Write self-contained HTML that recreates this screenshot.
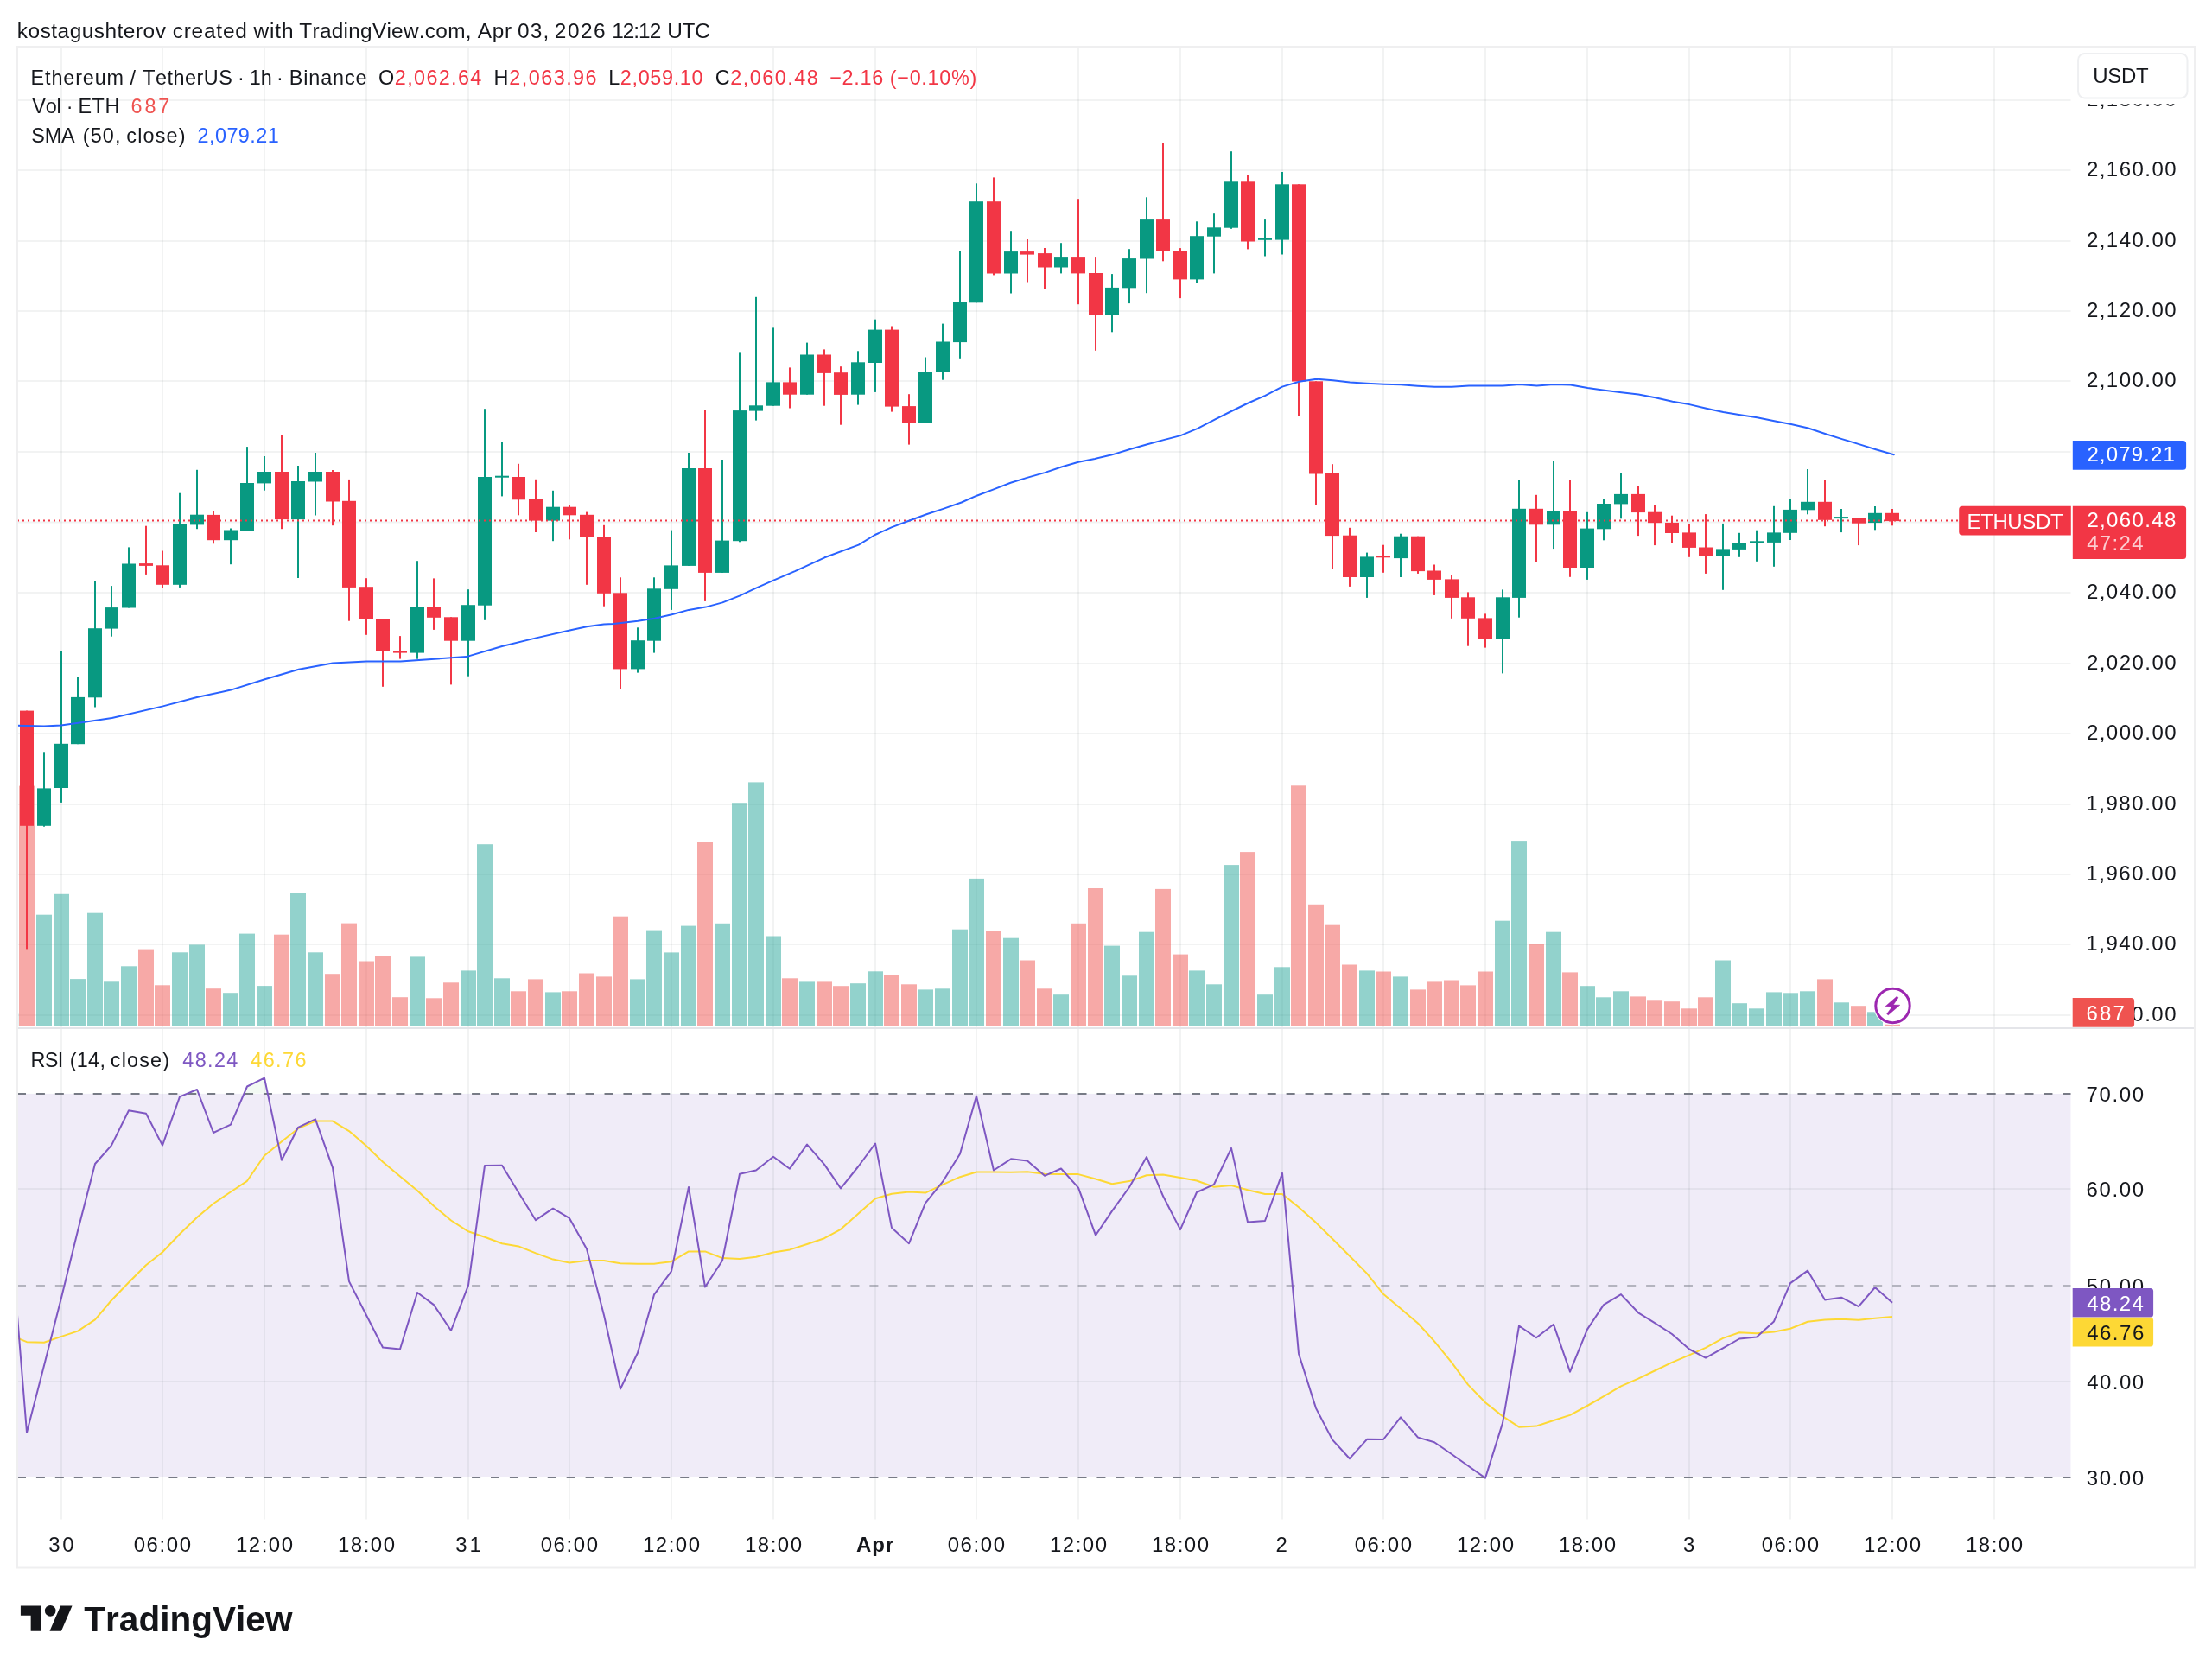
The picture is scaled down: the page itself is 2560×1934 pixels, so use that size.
<!DOCTYPE html>
<html><head><meta charset="utf-8"><title>ETHUSDT chart</title>
<style>html,body{margin:0;padding:0;background:#fff;}body{width:2560px;height:1934px;position:relative;overflow:hidden;font-family:"Liberation Sans", sans-serif;}svg{font-family:"Liberation Sans", sans-serif}text{white-space:pre;font-kerning:none}</style>
</head><body>
<svg width="2560" height="1934" viewBox="0 0 2560 1934" style="position:absolute;left:0;top:0">
<rect width="2560" height="1934" fill="#fff"/>
<rect x="20" y="1266" width="2376.5" height="444" fill="#7e57c2" fill-opacity="0.115"/>
<g fill="#2a2e39" fill-opacity="0.06"><rect x="70" y="55" width="2" height="1703.5"/><rect x="187" y="55" width="2" height="1703.5"/><rect x="305" y="55" width="2" height="1703.5"/><rect x="423" y="55" width="2" height="1703.5"/><rect x="541" y="55" width="2" height="1703.5"/><rect x="658" y="55" width="2" height="1703.5"/><rect x="776" y="55" width="2" height="1703.5"/><rect x="894" y="55" width="2" height="1703.5"/><rect x="1012" y="55" width="2" height="1703.5"/><rect x="1129" y="55" width="2" height="1703.5"/><rect x="1247" y="55" width="2" height="1703.5"/><rect x="1365" y="55" width="2" height="1703.5"/><rect x="1483" y="55" width="2" height="1703.5"/><rect x="1600" y="55" width="2" height="1703.5"/><rect x="1718" y="55" width="2" height="1703.5"/><rect x="1836" y="55" width="2" height="1703.5"/><rect x="1954" y="55" width="2" height="1703.5"/><rect x="2071" y="55" width="2" height="1703.5"/><rect x="2189" y="55" width="2" height="1703.5"/><rect x="2307" y="55" width="2" height="1703.5"/><rect x="20" y="115.0" width="2376.5" height="2"/><rect x="20" y="196.0" width="2376.5" height="2"/><rect x="20" y="278.0" width="2376.5" height="2"/><rect x="20" y="359.0" width="2376.5" height="2"/><rect x="20" y="440.0" width="2376.5" height="2"/><rect x="20" y="522.0" width="2376.5" height="2"/><rect x="20" y="603.5" width="2376.5" height="2"/><rect x="20" y="685.0" width="2376.5" height="2"/><rect x="20" y="767.0" width="2376.5" height="2"/><rect x="20" y="848.0" width="2376.5" height="2"/><rect x="20" y="930.0" width="2376.5" height="2"/><rect x="20" y="1011.0" width="2376.5" height="2"/><rect x="20" y="1092.0" width="2376.5" height="2"/><rect x="20" y="1174.0" width="2376.5" height="2"/><rect x="20" y="1375.0" width="2376.5" height="2"/><rect x="20" y="1598.0" width="2376.5" height="2"/></g>
<g fill-opacity="0.5"><rect x="20" y="1173.2" width="1.1999999999999993" height="14.8" fill="#26a69a"/><rect x="22" y="909.6" width="18" height="278.4" fill="#ef5350"/><rect x="42" y="1058.7" width="18" height="129.3" fill="#26a69a"/><rect x="62" y="1034.8" width="18" height="153.2" fill="#26a69a"/><rect x="81" y="1133.1" width="18" height="54.9" fill="#26a69a"/><rect x="101" y="1056.7" width="18" height="131.3" fill="#26a69a"/><rect x="120" y="1135.3" width="18" height="52.7" fill="#26a69a"/><rect x="140" y="1118.3" width="18" height="69.7" fill="#26a69a"/><rect x="160" y="1098.6" width="18" height="89.4" fill="#ef5350"/><rect x="179" y="1140.3" width="18" height="47.7" fill="#ef5350"/><rect x="199" y="1102.3" width="18" height="85.7" fill="#26a69a"/><rect x="219" y="1093.4" width="18" height="94.6" fill="#26a69a"/><rect x="238" y="1144.2" width="18" height="43.8" fill="#ef5350"/><rect x="258" y="1149.2" width="18" height="38.8" fill="#26a69a"/><rect x="277" y="1080.6" width="18" height="107.4" fill="#26a69a"/><rect x="297" y="1141.1" width="18" height="46.9" fill="#26a69a"/><rect x="317" y="1081.7" width="18" height="106.3" fill="#ef5350"/><rect x="336" y="1033.9" width="18" height="154.1" fill="#26a69a"/><rect x="356" y="1102.3" width="18" height="85.7" fill="#26a69a"/><rect x="376" y="1127.2" width="18" height="60.8" fill="#ef5350"/><rect x="395" y="1068.6" width="18" height="119.4" fill="#ef5350"/><rect x="415" y="1112.5" width="18" height="75.5" fill="#ef5350"/><rect x="434" y="1106.5" width="18" height="81.5" fill="#ef5350"/><rect x="454" y="1154.2" width="18" height="33.8" fill="#ef5350"/><rect x="474" y="1107.4" width="18" height="80.6" fill="#26a69a"/><rect x="493" y="1155.3" width="18" height="32.7" fill="#ef5350"/><rect x="513" y="1137.3" width="18" height="50.7" fill="#ef5350"/><rect x="533" y="1123.4" width="18" height="64.6" fill="#26a69a"/><rect x="552" y="977.2" width="18" height="210.8" fill="#26a69a"/><rect x="572" y="1132.3" width="18" height="55.7" fill="#26a69a"/><rect x="591" y="1147.3" width="18" height="40.7" fill="#ef5350"/><rect x="611" y="1133.4" width="18" height="54.6" fill="#ef5350"/><rect x="631" y="1148.4" width="18" height="39.6" fill="#26a69a"/><rect x="650" y="1147.3" width="18" height="40.7" fill="#ef5350"/><rect x="670" y="1126.5" width="18" height="61.5" fill="#ef5350"/><rect x="690" y="1130.4" width="18" height="57.6" fill="#ef5350"/><rect x="709" y="1060.7" width="18" height="127.3" fill="#ef5350"/><rect x="729" y="1133.4" width="18" height="54.6" fill="#26a69a"/><rect x="748" y="1076.6" width="18" height="111.4" fill="#26a69a"/><rect x="768" y="1102.4" width="18" height="85.6" fill="#26a69a"/><rect x="788" y="1071.6" width="18" height="116.4" fill="#26a69a"/><rect x="807" y="974.1" width="18" height="213.9" fill="#ef5350"/><rect x="827" y="1068.8" width="18" height="119.2" fill="#26a69a"/><rect x="847" y="929.2" width="18" height="258.8" fill="#26a69a"/><rect x="866" y="905.4" width="18" height="282.6" fill="#26a69a"/><rect x="886" y="1083.5" width="18" height="104.5" fill="#26a69a"/><rect x="905" y="1132.3" width="18" height="55.7" fill="#ef5350"/><rect x="925" y="1135.4" width="18" height="52.6" fill="#26a69a"/><rect x="945" y="1135.4" width="18" height="52.6" fill="#ef5350"/><rect x="964" y="1141.2" width="18" height="46.8" fill="#ef5350"/><rect x="984" y="1138.2" width="18" height="49.8" fill="#26a69a"/><rect x="1004" y="1124.3" width="18" height="63.7" fill="#26a69a"/><rect x="1023" y="1128.4" width="18" height="59.6" fill="#ef5350"/><rect x="1043" y="1139.3" width="18" height="48.7" fill="#ef5350"/><rect x="1062" y="1145.4" width="18" height="42.6" fill="#26a69a"/><rect x="1082" y="1144.3" width="18" height="43.7" fill="#26a69a"/><rect x="1102" y="1075.7" width="18" height="112.3" fill="#26a69a"/><rect x="1121" y="1016.9" width="18" height="171.1" fill="#26a69a"/><rect x="1141" y="1077.7" width="18" height="110.3" fill="#ef5350"/><rect x="1161" y="1085.7" width="18" height="102.3" fill="#26a69a"/><rect x="1180" y="1111.5" width="18" height="76.5" fill="#ef5350"/><rect x="1200" y="1144.3" width="18" height="43.7" fill="#ef5350"/><rect x="1219" y="1151.2" width="18" height="36.8" fill="#26a69a"/><rect x="1239" y="1068.8" width="18" height="119.2" fill="#ef5350"/><rect x="1259" y="1028.0" width="18" height="160.0" fill="#ef5350"/><rect x="1278" y="1094.6" width="18" height="93.4" fill="#26a69a"/><rect x="1298" y="1129.3" width="18" height="58.7" fill="#26a69a"/><rect x="1318" y="1078.7" width="18" height="109.3" fill="#26a69a"/><rect x="1337" y="1028.9" width="18" height="159.1" fill="#ef5350"/><rect x="1357" y="1104.6" width="18" height="83.4" fill="#ef5350"/><rect x="1376" y="1123.4" width="18" height="64.6" fill="#26a69a"/><rect x="1396" y="1139.3" width="18" height="48.7" fill="#26a69a"/><rect x="1416" y="1001.1" width="18" height="186.9" fill="#26a69a"/><rect x="1435" y="986.1" width="18" height="201.9" fill="#ef5350"/><rect x="1455" y="1151.2" width="18" height="36.8" fill="#26a69a"/><rect x="1475" y="1119.3" width="18" height="68.7" fill="#26a69a"/><rect x="1494" y="909.3" width="18" height="278.7" fill="#ef5350"/><rect x="1514" y="1046.8" width="18" height="141.2" fill="#ef5350"/><rect x="1533" y="1070.7" width="18" height="117.3" fill="#ef5350"/><rect x="1553" y="1116.5" width="18" height="71.5" fill="#ef5350"/><rect x="1573" y="1123.4" width="18" height="64.6" fill="#26a69a"/><rect x="1592" y="1124.5" width="18" height="63.5" fill="#ef5350"/><rect x="1612" y="1130.4" width="18" height="57.6" fill="#26a69a"/><rect x="1632" y="1145.4" width="18" height="42.6" fill="#ef5350"/><rect x="1651" y="1135.4" width="18" height="52.6" fill="#ef5350"/><rect x="1671" y="1134.5" width="18" height="53.5" fill="#ef5350"/><rect x="1690" y="1140.4" width="18" height="47.6" fill="#ef5350"/><rect x="1710" y="1124.5" width="18" height="63.5" fill="#ef5350"/><rect x="1730" y="1065.7" width="18" height="122.3" fill="#26a69a"/><rect x="1749" y="973.1" width="18" height="214.9" fill="#26a69a"/><rect x="1769" y="1092.6" width="18" height="95.4" fill="#ef5350"/><rect x="1789" y="1078.7" width="18" height="109.3" fill="#26a69a"/><rect x="1808" y="1125.4" width="18" height="62.6" fill="#ef5350"/><rect x="1828" y="1141.2" width="18" height="46.8" fill="#26a69a"/><rect x="1847" y="1154.3" width="18" height="33.7" fill="#26a69a"/><rect x="1867" y="1147.3" width="18" height="40.7" fill="#26a69a"/><rect x="1887" y="1153.4" width="18" height="34.6" fill="#ef5350"/><rect x="1906" y="1157.3" width="18" height="30.7" fill="#ef5350"/><rect x="1926" y="1159.2" width="18" height="28.8" fill="#ef5350"/><rect x="1946" y="1167.3" width="18" height="20.7" fill="#ef5350"/><rect x="1965" y="1154.3" width="18" height="33.7" fill="#ef5350"/><rect x="1985" y="1111.5" width="18" height="76.5" fill="#26a69a"/><rect x="2004" y="1161.2" width="18" height="26.8" fill="#26a69a"/><rect x="2024" y="1167.3" width="18" height="20.7" fill="#26a69a"/><rect x="2044" y="1148.4" width="18" height="39.6" fill="#26a69a"/><rect x="2063" y="1149.3" width="18" height="38.7" fill="#26a69a"/><rect x="2083" y="1147.3" width="18" height="40.7" fill="#26a69a"/><rect x="2103" y="1133.4" width="18" height="54.6" fill="#ef5350"/><rect x="2122" y="1160.3" width="18" height="27.7" fill="#26a69a"/><rect x="2142" y="1164.2" width="18" height="23.8" fill="#ef5350"/><rect x="2161" y="1171.3" width="18" height="16.7" fill="#26a69a"/><rect x="2181" y="1185.7" width="18" height="2.3" fill="#ef5350"/></g>
<rect x="30" y="822.6" width="2" height="275.8" fill="#f23645"/><rect x="23" y="822.6" width="16" height="133.2" fill="#f23645"/><rect x="50" y="870.3" width="2" height="86.4" fill="#089981"/><rect x="43" y="912.4" width="16" height="43.4" fill="#089981"/><rect x="70" y="753.0" width="2" height="175.9" fill="#089981"/><rect x="63" y="860.8" width="16" height="51.2" fill="#089981"/><rect x="89" y="783.1" width="2" height="78.1" fill="#089981"/><rect x="82" y="806.9" width="16" height="54.3" fill="#089981"/><rect x="109" y="672.3" width="2" height="146.2" fill="#089981"/><rect x="102" y="727.2" width="16" height="80.1" fill="#089981"/><rect x="128" y="678.1" width="2" height="58.6" fill="#089981"/><rect x="121" y="703.1" width="16" height="24.5" fill="#089981"/><rect x="148" y="633.4" width="2" height="70.1" fill="#089981"/><rect x="141" y="652.5" width="16" height="51.0" fill="#089981"/><rect x="168" y="608.7" width="2" height="56.2" fill="#f23645"/><rect x="161" y="652.1" width="16" height="2.8" fill="#f23645"/><rect x="187" y="637.5" width="2" height="43.2" fill="#f23645"/><rect x="180" y="654.3" width="16" height="22.5" fill="#f23645"/><rect x="207" y="570.7" width="2" height="109.2" fill="#089981"/><rect x="200" y="606.7" width="16" height="70.1" fill="#089981"/><rect x="227" y="543.8" width="2" height="68.4" fill="#089981"/><rect x="220" y="595.7" width="16" height="11.7" fill="#089981"/><rect x="246" y="591.5" width="2" height="37.8" fill="#f23645"/><rect x="239" y="595.9" width="16" height="29.3" fill="#f23645"/><rect x="266" y="611.5" width="2" height="41.7" fill="#089981"/><rect x="259" y="613.5" width="16" height="11.7" fill="#089981"/><rect x="285" y="517.1" width="2" height="97.2" fill="#089981"/><rect x="278" y="559.0" width="16" height="55.3" fill="#089981"/><rect x="305" y="528.0" width="2" height="39.7" fill="#089981"/><rect x="298" y="546.0" width="16" height="13.4" fill="#089981"/><rect x="325" y="503.0" width="2" height="109.2" fill="#f23645"/><rect x="318" y="546.0" width="16" height="55.1" fill="#f23645"/><rect x="344" y="539.0" width="2" height="130.0" fill="#089981"/><rect x="337" y="557.0" width="16" height="44.1" fill="#089981"/><rect x="364" y="524.0" width="2" height="72.5" fill="#089981"/><rect x="357" y="546.0" width="16" height="11.5" fill="#089981"/><rect x="384" y="544.0" width="2" height="64.2" fill="#f23645"/><rect x="377" y="546.0" width="16" height="34.5" fill="#f23645"/><rect x="403" y="554.9" width="2" height="163.8" fill="#f23645"/><rect x="396" y="579.8" width="16" height="100.1" fill="#f23645"/><rect x="423" y="669.2" width="2" height="65.6" fill="#f23645"/><rect x="416" y="679.2" width="16" height="37.5" fill="#f23645"/><rect x="442" y="716.1" width="2" height="78.7" fill="#f23645"/><rect x="435" y="716.1" width="16" height="37.7" fill="#f23645"/><rect x="462" y="736.1" width="2" height="26.5" fill="#f23645"/><rect x="455" y="753.1" width="16" height="2.5" fill="#f23645"/><rect x="482" y="649.2" width="2" height="113.5" fill="#089981"/><rect x="475" y="702.2" width="16" height="53.4" fill="#089981"/><rect x="501" y="669.4" width="2" height="59.5" fill="#f23645"/><rect x="494" y="702.2" width="16" height="12.6" fill="#f23645"/><rect x="521" y="714.3" width="2" height="78.1" fill="#f23645"/><rect x="514" y="714.3" width="16" height="27.4" fill="#f23645"/><rect x="541" y="682.2" width="2" height="100.5" fill="#089981"/><rect x="534" y="700.2" width="16" height="41.5" fill="#089981"/><rect x="560" y="473.2" width="2" height="244.6" fill="#089981"/><rect x="553" y="552.0" width="16" height="148.7" fill="#089981"/><rect x="580" y="511.0" width="2" height="63.4" fill="#089981"/><rect x="573" y="550.7" width="16" height="2.0" fill="#089981"/><rect x="599" y="536.8" width="2" height="59.5" fill="#f23645"/><rect x="592" y="552.0" width="16" height="26.3" fill="#f23645"/><rect x="619" y="554.8" width="2" height="61.2" fill="#f23645"/><rect x="612" y="577.8" width="16" height="24.8" fill="#f23645"/><rect x="639" y="567.8" width="2" height="58.4" fill="#089981"/><rect x="632" y="586.7" width="16" height="15.9" fill="#089981"/><rect x="658" y="584.8" width="2" height="39.5" fill="#f23645"/><rect x="651" y="586.7" width="16" height="9.6" fill="#f23645"/><rect x="678" y="592.6" width="2" height="84.2" fill="#f23645"/><rect x="671" y="595.8" width="16" height="26.1" fill="#f23645"/><rect x="698" y="607.8" width="2" height="93.9" fill="#f23645"/><rect x="691" y="621.4" width="16" height="65.4" fill="#f23645"/><rect x="717" y="668.3" width="2" height="129.1" fill="#f23645"/><rect x="710" y="686.3" width="16" height="88.1" fill="#f23645"/><rect x="737" y="726.3" width="2" height="52.3" fill="#089981"/><rect x="730" y="741.2" width="16" height="33.2" fill="#089981"/><rect x="756" y="668.3" width="2" height="87.3" fill="#089981"/><rect x="749" y="681.3" width="16" height="60.4" fill="#089981"/><rect x="776" y="613.6" width="2" height="92.3" fill="#089981"/><rect x="769" y="654.4" width="16" height="27.4" fill="#089981"/><rect x="796" y="524.0" width="2" height="130.9" fill="#089981"/><rect x="789" y="542.0" width="16" height="112.9" fill="#089981"/><rect x="815" y="474.3" width="2" height="221.6" fill="#f23645"/><rect x="808" y="542.0" width="16" height="120.9" fill="#f23645"/><rect x="835" y="532.0" width="2" height="130.9" fill="#089981"/><rect x="828" y="625.6" width="16" height="37.3" fill="#089981"/><rect x="855" y="407.4" width="2" height="219.9" fill="#089981"/><rect x="848" y="475.1" width="16" height="151.1" fill="#089981"/><rect x="874" y="343.8" width="2" height="142.8" fill="#089981"/><rect x="867" y="469.3" width="16" height="6.3" fill="#089981"/><rect x="894" y="379.4" width="2" height="90.3" fill="#089981"/><rect x="887" y="442.4" width="16" height="27.3" fill="#089981"/><rect x="913" y="425.4" width="2" height="47.1" fill="#f23645"/><rect x="906" y="442.4" width="16" height="14.3" fill="#f23645"/><rect x="933" y="396.6" width="2" height="60.1" fill="#089981"/><rect x="926" y="410.5" width="16" height="46.2" fill="#089981"/><rect x="953" y="404.4" width="2" height="65.3" fill="#f23645"/><rect x="946" y="410.5" width="16" height="21.4" fill="#f23645"/><rect x="972" y="424.2" width="2" height="67.5" fill="#f23645"/><rect x="965" y="431.2" width="16" height="25.7" fill="#f23645"/><rect x="992" y="406.3" width="2" height="62.3" fill="#089981"/><rect x="985" y="419.3" width="16" height="37.4" fill="#089981"/><rect x="1012" y="369.7" width="2" height="84.2" fill="#089981"/><rect x="1005" y="381.6" width="16" height="38.4" fill="#089981"/><rect x="1031" y="377.5" width="2" height="99.1" fill="#f23645"/><rect x="1024" y="381.6" width="16" height="89.0" fill="#f23645"/><rect x="1051" y="456.2" width="2" height="58.4" fill="#f23645"/><rect x="1044" y="470.1" width="16" height="19.6" fill="#f23645"/><rect x="1070" y="413.5" width="2" height="76.2" fill="#089981"/><rect x="1063" y="430.4" width="16" height="59.3" fill="#089981"/><rect x="1090" y="374.6" width="2" height="65.1" fill="#089981"/><rect x="1083" y="395.5" width="16" height="35.3" fill="#089981"/><rect x="1110" y="290.2" width="2" height="124.6" fill="#089981"/><rect x="1103" y="349.7" width="16" height="46.4" fill="#089981"/><rect x="1129" y="212.3" width="2" height="138.0" fill="#089981"/><rect x="1122" y="233.2" width="16" height="117.1" fill="#089981"/><rect x="1149" y="205.4" width="2" height="113.0" fill="#f23645"/><rect x="1142" y="233.2" width="16" height="83.3" fill="#f23645"/><rect x="1169" y="267.2" width="2" height="72.3" fill="#089981"/><rect x="1162" y="291.1" width="16" height="25.4" fill="#089981"/><rect x="1188" y="277.0" width="2" height="49.5" fill="#f23645"/><rect x="1181" y="291.1" width="16" height="3.5" fill="#f23645"/><rect x="1208" y="287.0" width="2" height="47.4" fill="#f23645"/><rect x="1201" y="293.1" width="16" height="16.4" fill="#f23645"/><rect x="1227" y="281.2" width="2" height="35.2" fill="#089981"/><rect x="1220" y="298.1" width="16" height="11.4" fill="#089981"/><rect x="1247" y="230.2" width="2" height="122.0" fill="#f23645"/><rect x="1240" y="298.1" width="16" height="18.3" fill="#f23645"/><rect x="1267" y="298.1" width="2" height="107.7" fill="#f23645"/><rect x="1260" y="316.0" width="16" height="48.2" fill="#f23645"/><rect x="1286" y="317.1" width="2" height="67.2" fill="#089981"/><rect x="1279" y="332.9" width="16" height="31.3" fill="#089981"/><rect x="1306" y="288.2" width="2" height="62.9" fill="#089981"/><rect x="1299" y="299.1" width="16" height="34.2" fill="#089981"/><rect x="1326" y="228.3" width="2" height="110.9" fill="#089981"/><rect x="1319" y="254.1" width="16" height="45.4" fill="#089981"/><rect x="1345" y="165.4" width="2" height="136.9" fill="#f23645"/><rect x="1338" y="254.1" width="16" height="36.3" fill="#f23645"/><rect x="1365" y="287.1" width="2" height="58.0" fill="#f23645"/><rect x="1358" y="290.2" width="16" height="33.2" fill="#f23645"/><rect x="1384" y="256.3" width="2" height="71.0" fill="#089981"/><rect x="1377" y="273.2" width="16" height="50.2" fill="#089981"/><rect x="1404" y="247.2" width="2" height="69.2" fill="#089981"/><rect x="1397" y="263.3" width="16" height="10.4" fill="#089981"/><rect x="1424" y="175.2" width="2" height="89.6" fill="#089981"/><rect x="1417" y="210.3" width="16" height="53.4" fill="#089981"/><rect x="1443" y="202.3" width="2" height="86.1" fill="#f23645"/><rect x="1436" y="210.3" width="16" height="69.2" fill="#f23645"/><rect x="1463" y="254.1" width="2" height="42.4" fill="#089981"/><rect x="1456" y="275.8" width="16" height="2.0" fill="#089981"/><rect x="1483" y="199.0" width="2" height="95.5" fill="#089981"/><rect x="1476" y="213.3" width="16" height="64.3" fill="#089981"/><rect x="1502" y="213.3" width="2" height="268.4" fill="#f23645"/><rect x="1495" y="213.3" width="16" height="228.2" fill="#f23645"/><rect x="1522" y="441.3" width="2" height="143.2" fill="#f23645"/><rect x="1515" y="441.3" width="16" height="107.2" fill="#f23645"/><rect x="1541" y="537.2" width="2" height="121.7" fill="#f23645"/><rect x="1534" y="548.0" width="16" height="72.1" fill="#f23645"/><rect x="1561" y="610.8" width="2" height="68.1" fill="#f23645"/><rect x="1554" y="619.7" width="16" height="48.3" fill="#f23645"/><rect x="1581" y="639.6" width="2" height="52.3" fill="#089981"/><rect x="1574" y="644.4" width="16" height="23.6" fill="#089981"/><rect x="1600" y="630.7" width="2" height="32.1" fill="#f23645"/><rect x="1593" y="643.3" width="16" height="2.0" fill="#f23645"/><rect x="1620" y="617.7" width="2" height="50.3" fill="#089981"/><rect x="1613" y="620.7" width="16" height="25.4" fill="#089981"/><rect x="1640" y="620.7" width="2" height="43.2" fill="#f23645"/><rect x="1633" y="620.7" width="16" height="40.4" fill="#f23645"/><rect x="1659" y="653.5" width="2" height="35.4" fill="#f23645"/><rect x="1652" y="660.5" width="16" height="10.4" fill="#f23645"/><rect x="1679" y="665.4" width="2" height="50.4" fill="#f23645"/><rect x="1672" y="670.4" width="16" height="21.5" fill="#f23645"/><rect x="1698" y="685.4" width="2" height="62.3" fill="#f23645"/><rect x="1691" y="691.3" width="16" height="24.5" fill="#f23645"/><rect x="1718" y="710.4" width="2" height="39.2" fill="#f23645"/><rect x="1711" y="715.4" width="16" height="24.3" fill="#f23645"/><rect x="1738" y="682.4" width="2" height="97.0" fill="#089981"/><rect x="1731" y="691.3" width="16" height="48.4" fill="#089981"/><rect x="1757" y="555.0" width="2" height="159.7" fill="#089981"/><rect x="1750" y="588.8" width="16" height="103.1" fill="#089981"/><rect x="1777" y="572.8" width="2" height="78.1" fill="#f23645"/><rect x="1770" y="588.8" width="16" height="18.5" fill="#f23645"/><rect x="1797" y="533.1" width="2" height="102.0" fill="#089981"/><rect x="1790" y="591.9" width="16" height="15.4" fill="#089981"/><rect x="1816" y="555.9" width="2" height="111.9" fill="#f23645"/><rect x="1809" y="591.9" width="16" height="65.1" fill="#f23645"/><rect x="1836" y="592.8" width="2" height="78.1" fill="#089981"/><rect x="1829" y="611.6" width="16" height="45.4" fill="#089981"/><rect x="1855" y="577.8" width="2" height="47.5" fill="#089981"/><rect x="1848" y="583.0" width="16" height="29.3" fill="#089981"/><rect x="1875" y="547.0" width="2" height="53.3" fill="#089981"/><rect x="1868" y="571.9" width="16" height="11.5" fill="#089981"/><rect x="1895" y="562.0" width="2" height="58.1" fill="#f23645"/><rect x="1888" y="571.9" width="16" height="21.2" fill="#f23645"/><rect x="1914" y="584.9" width="2" height="46.2" fill="#f23645"/><rect x="1907" y="592.7" width="16" height="12.5" fill="#f23645"/><rect x="1934" y="596.7" width="2" height="32.3" fill="#f23645"/><rect x="1927" y="604.9" width="16" height="12.1" fill="#f23645"/><rect x="1954" y="606.8" width="2" height="38.0" fill="#f23645"/><rect x="1947" y="616.4" width="16" height="17.5" fill="#f23645"/><rect x="1973" y="595.1" width="2" height="68.8" fill="#f23645"/><rect x="1966" y="633.5" width="16" height="10.4" fill="#f23645"/><rect x="1993" y="605.9" width="2" height="76.9" fill="#089981"/><rect x="1986" y="635.4" width="16" height="8.5" fill="#089981"/><rect x="2012" y="616.8" width="2" height="28.0" fill="#089981"/><rect x="2005" y="628.5" width="16" height="7.4" fill="#089981"/><rect x="2032" y="613.7" width="2" height="36.1" fill="#089981"/><rect x="2025" y="626.3" width="16" height="2.0" fill="#089981"/><rect x="2052" y="585.8" width="2" height="70.0" fill="#089981"/><rect x="2045" y="616.4" width="16" height="11.5" fill="#089981"/><rect x="2071" y="577.9" width="2" height="47.1" fill="#089981"/><rect x="2064" y="589.9" width="16" height="26.9" fill="#089981"/><rect x="2091" y="543.0" width="2" height="52.3" fill="#089981"/><rect x="2084" y="580.8" width="16" height="9.5" fill="#089981"/><rect x="2111" y="556.0" width="2" height="53.2" fill="#f23645"/><rect x="2104" y="580.8" width="16" height="21.0" fill="#f23645"/><rect x="2130" y="589.0" width="2" height="27.1" fill="#089981"/><rect x="2123" y="598.1" width="16" height="2.0" fill="#089981"/><rect x="2150" y="599.9" width="2" height="31.2" fill="#f23645"/><rect x="2143" y="599.9" width="16" height="5.8" fill="#f23645"/><rect x="2169" y="586.0" width="2" height="27.3" fill="#089981"/><rect x="2162" y="593.8" width="16" height="11.3" fill="#089981"/><rect x="2189" y="589.0" width="2" height="19.3" fill="#f23645"/><rect x="2182" y="593.8" width="16" height="9.3" fill="#f23645"/>
<line x1="20" y1="602.6" x2="2266" y2="602.6" stroke="#f23645" stroke-width="2" stroke-dasharray="2 4"/>
<polyline points="20.0,839.7 51.0,840.4 70.7,839.5 97.7,835.8 129.6,831.0 188.6,817.4 227.9,807.0 267.1,798.6 306.4,786.2 345.7,774.7 385.0,767.5 424.2,765.6 463.5,765.4 502.9,762.7 539.8,760.1 581.0,748.0 620.4,738.4 659.4,729.5 679.1,725.2 698.9,722.4 710.2,721.9 738.2,718.7 757.7,715.8 777.4,711.3 797.0,705.9 816.7,702.6 836.2,697.4 855.8,689.6 875.5,680.3 895.3,671.6 920.0,661.2 954.4,645.3 993.7,630.6 1012.7,619.0 1031.6,610.4 1051.9,602.8 1072.2,595.2 1092.4,588.6 1112.7,581.5 1130.4,573.7 1150.6,566.1 1169.6,558.7 1188.6,552.9 1208.9,547.1 1229.1,540.3 1248.1,534.7 1267.1,530.9 1286.1,526.6 1307.6,520.0 1327.8,514.2 1346.8,509.1 1366.3,504.1 1386.1,495.9 1406.3,485.3 1425.0,476.0 1444.5,466.5 1464.3,457.9 1484.0,447.6 1503.5,441.8 1523.6,438.7 1542.7,440.2 1562.2,442.5 1582.0,443.8 1601.8,444.7 1621.2,445.3 1640.8,446.7 1660.3,447.7 1680.2,447.8 1700.0,446.5 1719.5,446.5 1739.3,446.5 1758.8,445.0 1778.6,446.5 1798.1,445.0 1817.6,445.6 1837.4,448.9 1856.9,451.7 1876.6,454.3 1896.2,456.5 1915.8,460.3 1935.6,464.7 1955.1,468.1 1974.8,472.7 1994.4,477.0 2014.1,480.3 2033.6,483.3 2053.4,487.2 2072.9,491.1 2092.7,495.5 2112.2,502.0 2131.7,508.1 2151.5,514.1 2171.0,520.2 2191.8,526.3" fill="none" stroke="#2962ff" stroke-width="2" stroke-linejoin="round" stroke-linecap="round"/>
<rect x="20" y="1189" width="2520" height="2" fill="#e4e5e9"/>
<g stroke="#787b86" stroke-width="2" stroke-dasharray="10 11.92" fill="none"><line x1="20" y1="1266" x2="2396.5" y2="1266"/><line x1="20" y1="1488" x2="2396.5" y2="1488" stroke-opacity="0.5"/><line x1="20" y1="1710" x2="2396.5" y2="1710"/></g>
<defs><clipPath id="ob"><rect x="20" y="1191" width="2376" height="74.8"/></clipPath><linearGradient id="obg" x1="0" y1="0" x2="0" y2="1"><stop offset="0" stop-color="#4caf50" stop-opacity="0.16"/><stop offset="1" stop-color="#4caf50" stop-opacity="0"/></linearGradient></defs>
<g clip-path="url(#ob)"><polygon points="20,1265.8 31,1658.0 51,1580.5 71,1502.0 90,1424.5 110,1347.0 129,1325.6 149,1285.2 169,1288.8 188,1325.6 208,1269.4 228,1261.0 247,1311.0 267,1301.6 286,1257.5 306,1247.6 326,1342.7 345,1304.8 365,1295.3 385,1351.3 404,1483.1 424,1522.2 443,1559.5 463,1561.5 483,1496.0 502,1510.1 522,1540.0 542,1487.7 561,1349.0 581,1348.7 600,1380.0 620,1412.2 640,1398.7 659,1409.9 679,1445.5 699,1522.2 718,1607.5 738,1565.8 757,1498.4 777,1471.4 797,1374.0 816,1489.5 836,1459.0 856,1358.8 875,1354.5 895,1338.7 914,1352.7 934,1324.6 954,1347.6 973,1375.4 993,1350.5 1013,1323.5 1032,1421.1 1052,1439.2 1071,1392.4 1091,1367.7 1111,1335.5 1130,1268.6 1150,1354.5 1170,1341.3 1189,1343.6 1209,1360.8 1228,1352.5 1248,1374.6 1268,1429.7 1287,1401.6 1307,1374.0 1327,1339.0 1346,1384.3 1366,1423.1 1385,1380.0 1405,1370.8 1425,1328.9 1444,1414.5 1464,1413.0 1484,1357.9 1503,1566.7 1523,1629.9 1542,1666.4 1562,1688.2 1582,1665.8 1601,1666.0 1621,1640.3 1641,1663.6 1660,1669.2 1680,1683.0 1699,1696.5 1719,1710.6 1739,1647.1 1758,1534.5 1778,1548.3 1798,1532.8 1817,1587.7 1837,1538.6 1856,1510.1 1876,1498.1 1896,1519.3 1915,1531.1 1935,1544.0 1955,1561.5 1974,1571.6 1994,1560.4 2013,1549.5 2033,1547.5 2053,1529.4 2072,1485.1 2092,1470.6 2112,1504.4 2131,1501.7 2151,1512.2 2170,1490.0 2190,1507.7 2190,1265.8" fill="#4caf50" fill-opacity="0.07"/></g>
<polyline points="20,1548.6 31,1553.2 51,1553.8 71,1546.9 90,1540.6 110,1527.4 129,1505.0 149,1484.3 169,1464.2 188,1449.2 208,1428.3 228,1409.0 247,1393.0 267,1379.5 286,1366.8 306,1337.5 326,1321.2 345,1306.2 365,1297.6 385,1297.6 404,1309.1 424,1326.3 443,1344.7 463,1361.4 483,1378.0 502,1395.8 522,1412.5 542,1425.3 561,1431.7 581,1439.2 600,1442.4 620,1450.4 640,1457.6 659,1461.6 679,1459.0 699,1459.0 718,1462.2 738,1462.7 757,1462.7 777,1460.2 797,1448.4 816,1448.4 836,1456.1 856,1457.0 875,1454.7 895,1449.5 914,1446.4 934,1440.0 954,1433.2 973,1422.8 993,1405.0 1013,1387.2 1032,1381.8 1052,1379.5 1071,1380.6 1091,1371.2 1111,1362.2 1130,1356.5 1150,1356.5 1170,1356.8 1189,1356.2 1209,1358.8 1228,1359.1 1248,1359.1 1268,1364.5 1287,1370.3 1307,1367.1 1327,1360.2 1346,1359.4 1366,1363.1 1385,1366.5 1405,1373.7 1425,1372.0 1444,1377.2 1464,1382.0 1484,1382.0 1503,1397.3 1523,1415.1 1542,1433.7 1562,1453.8 1582,1473.9 1601,1497.8 1621,1514.6 1641,1531.5 1660,1552.3 1680,1576.8 1699,1602.6 1719,1623.3 1739,1639.1 1758,1651.7 1778,1650.6 1798,1644.0 1817,1637.9 1837,1627.0 1856,1616.1 1876,1604.3 1896,1595.7 1915,1586.5 1935,1576.8 1955,1568.4 1974,1559.8 1994,1548.9 2013,1542.3 2033,1543.2 2053,1541.4 2072,1537.7 2092,1529.8 2112,1527.4 2131,1526.7 2151,1527.8 2170,1525.7 2190,1524.0" fill="none" stroke="#fdd835" stroke-width="2" stroke-linejoin="round"/>
<polyline points="20,1522.2 31,1658.0 51,1580.5 71,1502.0 90,1424.5 110,1347.0 129,1325.6 149,1285.2 169,1288.8 188,1325.6 208,1269.4 228,1261.0 247,1311.0 267,1301.6 286,1257.5 306,1247.6 326,1342.7 345,1304.8 365,1295.3 385,1351.3 404,1483.1 424,1522.2 443,1559.5 463,1561.5 483,1496.0 502,1510.1 522,1540.0 542,1487.7 561,1349.0 581,1348.7 600,1380.0 620,1412.2 640,1398.7 659,1409.9 679,1445.5 699,1522.2 718,1607.5 738,1565.8 757,1498.4 777,1471.4 797,1374.0 816,1489.5 836,1459.0 856,1358.8 875,1354.5 895,1338.7 914,1352.7 934,1324.6 954,1347.6 973,1375.4 993,1350.5 1013,1323.5 1032,1421.1 1052,1439.2 1071,1392.4 1091,1367.7 1111,1335.5 1130,1268.6 1150,1354.5 1170,1341.3 1189,1343.6 1209,1360.8 1228,1352.5 1248,1374.6 1268,1429.7 1287,1401.6 1307,1374.0 1327,1339.0 1346,1384.3 1366,1423.1 1385,1380.0 1405,1370.8 1425,1328.9 1444,1414.5 1464,1413.0 1484,1357.9 1503,1566.7 1523,1629.9 1542,1666.4 1562,1688.2 1582,1665.8 1601,1666.0 1621,1640.3 1641,1663.6 1660,1669.2 1680,1683.0 1699,1696.5 1719,1710.6 1739,1647.1 1758,1534.5 1778,1548.3 1798,1532.8 1817,1587.7 1837,1538.6 1856,1510.1 1876,1498.1 1896,1519.3 1915,1531.1 1935,1544.0 1955,1561.5 1974,1571.6 1994,1560.4 2013,1549.5 2033,1547.5 2053,1529.4 2072,1485.1 2092,1470.6 2112,1504.4 2131,1501.7 2151,1512.2 2170,1490.0 2190,1507.7" fill="none" stroke="#7e57c2" stroke-width="2" stroke-linejoin="round"/>
<rect x="20" y="54" width="2520" height="1760.5" fill="none" stroke="#efeff0" stroke-width="2"/>
<g><circle cx="2190.5" cy="1164" r="22.3" fill="#fff"/><circle cx="2190.5" cy="1164" r="19.7" fill="#fff" stroke="#9c27b0" stroke-width="3"/><path d="M2195.4 1153.1 L2197.0 1154.7 L2191.3 1163.0 L2198.9 1163.2 L2185.2 1174.9 L2183.6 1173.5 L2189.8 1165.1 L2181.9 1164.8 Z" fill="#9c27b0" stroke="#9c27b0" stroke-width="0.4" stroke-linejoin="round"/></g>
<rect x="2397" y="55" width="142" height="65.3" fill="#fff"/>
<rect x="2405.1" y="61.9" width="126.4" height="51.5" rx="7.5" fill="#fff" stroke="#eeeff1" stroke-width="2"/>
<path d="M2398.8 509.9 H2526.6000000000004 Q2530.1000000000004 509.9 2530.1000000000004 513.4 V540.1999999999999 Q2530.1000000000004 543.6999999999999 2526.6000000000004 543.6999999999999 H2398.8 Q2398.8 543.6999999999999 2398.8 543.6999999999999 V509.9 Q2398.8 509.9 2398.8 509.9 Z" fill="#2962ff"/>
<path d="M2271.2 585.7 H2396.7999999999997 Q2396.7999999999997 585.7 2396.7999999999997 585.7 V619.4000000000001 Q2396.7999999999997 619.4000000000001 2396.7999999999997 619.4000000000001 H2271.2 Q2267.2 619.4000000000001 2267.2 615.4000000000001 V589.7 Q2267.2 585.7 2271.2 585.7 Z" fill="#f23645"/>
<path d="M2398.8 585.7 H2526.6000000000004 Q2530.1000000000004 585.7 2530.1000000000004 589.2 V643.4000000000001 Q2530.1000000000004 646.9000000000001 2526.6000000000004 646.9000000000001 H2398.8 Q2398.8 646.9000000000001 2398.8 646.9000000000001 V585.7 Q2398.8 585.7 2398.8 585.7 Z" fill="#f23645"/>
<path d="M2398.7 1155.1 H2466.6 Q2470.1 1155.1 2470.1 1158.6 V1185.3 Q2470.1 1188.8 2466.6 1188.8 H2398.7 Q2398.7 1188.8 2398.7 1188.8 V1155.1 Q2398.7 1155.1 2398.7 1155.1 Z" fill="#ef5350"/>
<path d="M2398.7 1491.1 H2488.6 Q2492.1 1491.1 2492.1 1494.6 V1521.1 Q2492.1 1524.6 2488.6 1524.6 H2398.7 Q2398.7 1524.6 2398.7 1524.6 V1491.1 Q2398.7 1491.1 2398.7 1491.1 Z" fill="#7e57c2"/>
<path d="M2398.7 1524.8 H2488.6 Q2492.1 1524.8 2492.1 1528.3 V1555.1 Q2492.1 1558.6 2488.6 1558.6 H2398.7 Q2398.7 1558.6 2398.7 1558.6 V1524.8 Q2398.7 1524.8 2398.7 1524.8 Z" fill="#fdd835"/>
<g fill="#141519" transform="translate(23.9,1851.9) scale(1.68,1.63)"><path d="M14 22H7V11H0V4h14v18zM28 22h-8l7.5-18h8L28 22z"/></g><circle cx="58.2" cy="1864.3" r="6.35" fill="#141519"/>
</svg>
<svg width="2560" height="1934" viewBox="0 0 2560 1934" style="position:absolute;left:0;top:0;transform:translateZ(0)"><text x="19.86" y="44.2" font-size="24.4" fill="#15171c" letter-spacing="0.504">kostagushterov</text>
<text x="199.66" y="44.2" font-size="24.4" fill="#15171c" letter-spacing="0.804">created</text>
<text x="293.44" y="44.2" font-size="24.4" fill="#15171c" letter-spacing="0.919">with</text>
<text x="346.35" y="44.2" font-size="24.4" fill="#15171c" letter-spacing="0.265">TradingView.com,</text>
<text x="552.85" y="44.2" font-size="24.4" fill="#15171c" letter-spacing="0.691">Apr</text>
<text x="599.05" y="44.2" font-size="24.4" fill="#15171c" letter-spacing="1.113">03,</text>
<text x="641.87" y="44.2" font-size="24.4" fill="#15171c" letter-spacing="1.473">2026</text>
<text x="708.24" y="44.2" font-size="24.4" fill="#15171c" letter-spacing="-1.018">12:12</text>
<text x="772.22" y="44.2" font-size="24.4" fill="#15171c" letter-spacing="-0.217">UTC</text>
<text x="35.58" y="97.5" font-size="23.4" fill="#15171c" letter-spacing="0.859">Ethereum</text>
<text x="150.60" y="97.5" font-size="23.4" fill="#15171c" letter-spacing="0.000">/</text>
<text x="165.27" y="97.5" font-size="23.4" fill="#15171c" letter-spacing="0.495">TetherUS</text>
<text x="275.02" y="97.5" font-size="23.4" fill="#15171c" letter-spacing="0.000">·</text>
<text x="288.82" y="97.5" font-size="23.4" fill="#15171c" letter-spacing="-0.026">1h</text>
<text x="320.02" y="97.5" font-size="23.4" fill="#15171c" letter-spacing="0.000">·</text>
<text x="334.78" y="97.5" font-size="23.4" fill="#15171c" letter-spacing="0.866">Binance</text>
<text x="437.89" y="97.5" font-size="23.4" fill="#15171c" letter-spacing="0.000">O</text>
<text x="571.48" y="97.5" font-size="23.4" fill="#15171c" letter-spacing="0.000">H</text>
<text x="704.18" y="97.5" font-size="23.4" fill="#15171c" letter-spacing="0.000">L</text>
<text x="827.71" y="97.5" font-size="23.4" fill="#15171c" letter-spacing="0.000">C</text>
<text x="456.82" y="97.5" font-size="23.4" fill="#f23645" letter-spacing="1.354">2,062.64</text>
<text x="589.32" y="97.5" font-size="23.4" fill="#f23645" letter-spacing="1.460">2,063.96</text>
<text x="717.82" y="97.5" font-size="23.4" fill="#f23645" letter-spacing="0.658">2,059.10</text>
<text x="845.32" y="97.5" font-size="23.4" fill="#f23645" letter-spacing="1.487">2,060.48</text>
<text x="960.25" y="97.5" font-size="23.4" fill="#f23645" letter-spacing="0.693">−2.16</text>
<text x="1029.85" y="97.5" font-size="23.4" fill="#f23645" letter-spacing="0.686">(−0.10%)</text>
<text x="37.30" y="131.2" font-size="23.4" fill="#15171c" letter-spacing="-0.176">Vol</text>
<text x="76.82" y="131.2" font-size="23.4" fill="#15171c" letter-spacing="0.000">·</text>
<text x="90.38" y="131.2" font-size="23.4" fill="#15171c" letter-spacing="0.614">ETH</text>
<text x="151.61" y="131.2" font-size="23.4" fill="#ef5350" letter-spacing="2.762">687</text>
<text x="36.34" y="164.9" font-size="23.4" fill="#15171c" letter-spacing="-0.250">SMA</text>
<text x="95.65" y="164.9" font-size="23.4" fill="#15171c" letter-spacing="1.211">(50,</text>
<text x="146.31" y="164.9" font-size="23.4" fill="#15171c" letter-spacing="1.165">close)</text>
<text x="228.62" y="164.9" font-size="23.4" fill="#2962ff" letter-spacing="0.433">2,079.21</text>
<text x="35.38" y="1234.7" font-size="23.4" fill="#15171c" letter-spacing="-0.514">RSI</text>
<text x="80.75" y="1234.7" font-size="23.4" fill="#15171c" letter-spacing="0.277">(14,</text>
<text x="127.81" y="1234.7" font-size="23.4" fill="#15171c" letter-spacing="1.165">close)</text>
<text x="211.36" y="1234.7" font-size="23.4" fill="#7e57c2" letter-spacing="1.341">48.24</text>
<text x="290.26" y="1234.7" font-size="23.4" fill="#fdd835" letter-spacing="1.427">46.76</text>
<defs><clipPath id="c1"><rect x="2397" y="120.3" width="142" height="40"/></clipPath><clipPath id="c2"><rect x="2470" y="1150" width="70" height="39"/></clipPath><clipPath id="c3"><rect x="2397" y="1460" width="142" height="31.1"/></clipPath></defs>
<text x="2414.89" y="122.95" font-size="24" fill="#15171c" letter-spacing="1.475" clip-path="url(#c1)">2,180.00</text>
<text x="2414.89" y="203.95" font-size="24" fill="#15171c" letter-spacing="1.475">2,160.00</text>
<text x="2414.89" y="285.95" font-size="24" fill="#15171c" letter-spacing="1.475">2,140.00</text>
<text x="2414.89" y="366.95" font-size="24" fill="#15171c" letter-spacing="1.475">2,120.00</text>
<text x="2414.89" y="447.95" font-size="24" fill="#15171c" letter-spacing="1.475">2,100.00</text>
<text x="2414.89" y="692.95" font-size="24" fill="#15171c" letter-spacing="1.475">2,040.00</text>
<text x="2414.89" y="774.95" font-size="24" fill="#15171c" letter-spacing="1.475">2,020.00</text>
<text x="2414.89" y="855.95" font-size="24" fill="#15171c" letter-spacing="1.475">2,000.00</text>
<text x="2414.27" y="937.95" font-size="24" fill="#15171c" letter-spacing="1.563">1,980.00</text>
<text x="2414.27" y="1018.95" font-size="24" fill="#15171c" letter-spacing="1.563">1,960.00</text>
<text x="2414.27" y="1099.95" font-size="24" fill="#15171c" letter-spacing="1.563">1,940.00</text>
<text x="2414.27" y="1181.95" font-size="24" fill="#15171c" letter-spacing="1.563" clip-path="url(#c2)">1,920.00</text>
<text x="2414.47" y="1274.9" font-size="24" fill="#15171c" letter-spacing="1.652">70.00</text>
<text x="2414.48" y="1384.9" font-size="24" fill="#15171c" letter-spacing="1.649">60.00</text>
<text x="2414.74" y="1496.9" font-size="24" fill="#15171c" letter-spacing="1.585" clip-path="url(#c3)">50.00</text>
<text x="2415.15" y="1607.9" font-size="24" fill="#15171c" letter-spacing="1.482">40.00</text>
<text x="2414.79" y="1718.9" font-size="24" fill="#15171c" letter-spacing="1.573">30.00</text>
<text x="2422.15" y="96.3" font-size="24" fill="#15171c" letter-spacing="-0.243">USDT</text>
<text x="56.29" y="1796.3" font-size="24" fill="#15171c" letter-spacing="2.556">30</text>
<text x="154.66" y="1796.3" font-size="24" fill="#15171c" letter-spacing="1.579">06:00</text>
<text x="272.97" y="1796.3" font-size="24" fill="#15171c" letter-spacing="1.502">12:00</text>
<text x="390.97" y="1796.3" font-size="24" fill="#15171c" letter-spacing="1.502">18:00</text>
<text x="527.29" y="1796.3" font-size="24" fill="#15171c" letter-spacing="2.791">31</text>
<text x="625.66" y="1796.3" font-size="24" fill="#15171c" letter-spacing="1.579">06:00</text>
<text x="743.97" y="1796.3" font-size="24" fill="#15171c" letter-spacing="1.502">12:00</text>
<text x="861.97" y="1796.3" font-size="24" fill="#15171c" letter-spacing="1.502">18:00</text>
<text x="991.10" y="1796.3" font-size="24" fill="#15171c" letter-spacing="0.914" font-weight="bold">Apr</text>
<text x="1096.66" y="1796.3" font-size="24" fill="#15171c" letter-spacing="1.579">06:00</text>
<text x="1214.97" y="1796.3" font-size="24" fill="#15171c" letter-spacing="1.502">12:00</text>
<text x="1332.97" y="1796.3" font-size="24" fill="#15171c" letter-spacing="1.502">18:00</text>
<text x="1476.59" y="1796.3" font-size="24" fill="#15171c" letter-spacing="0.000">2</text>
<text x="1567.66" y="1796.3" font-size="24" fill="#15171c" letter-spacing="1.579">06:00</text>
<text x="1685.97" y="1796.3" font-size="24" fill="#15171c" letter-spacing="1.502">12:00</text>
<text x="1803.97" y="1796.3" font-size="24" fill="#15171c" letter-spacing="1.502">18:00</text>
<text x="1947.89" y="1796.3" font-size="24" fill="#15171c" letter-spacing="0.000">3</text>
<text x="2038.66" y="1796.3" font-size="24" fill="#15171c" letter-spacing="1.579">06:00</text>
<text x="2156.97" y="1796.3" font-size="24" fill="#15171c" letter-spacing="1.502">12:00</text>
<text x="2274.97" y="1796.3" font-size="24" fill="#15171c" letter-spacing="1.502">18:00</text>
<text x="2415.39" y="533.9" font-size="24" fill="#fff" letter-spacing="1.137">2,079.21</text>
<text x="2276.53" y="611.5" font-size="24" fill="#fff" letter-spacing="-0.385">ETHUSDT</text>
<text x="2415.39" y="609.6" font-size="24" fill="#fff" letter-spacing="1.347">2,060.48</text>
<text x="2415.15" y="637.3" font-size="24" fill="#fff" letter-spacing="1.349" fill-opacity="0.75">47:24</text>
<text x="2414.48" y="1181.1" font-size="24" fill="#fff" letter-spacing="2.141">687</text>
<text x="2415.15" y="1516.9" font-size="24" fill="#fff" letter-spacing="1.424">48.24</text>
<text x="2415.15" y="1550.7" font-size="24" fill="#15171c" letter-spacing="1.512">46.76</text>
<text x="97.25" y="1887.7" font-size="40.5" fill="#141519" letter-spacing="0.039" font-weight="bold">TradingView</text></svg>
</body></html>
